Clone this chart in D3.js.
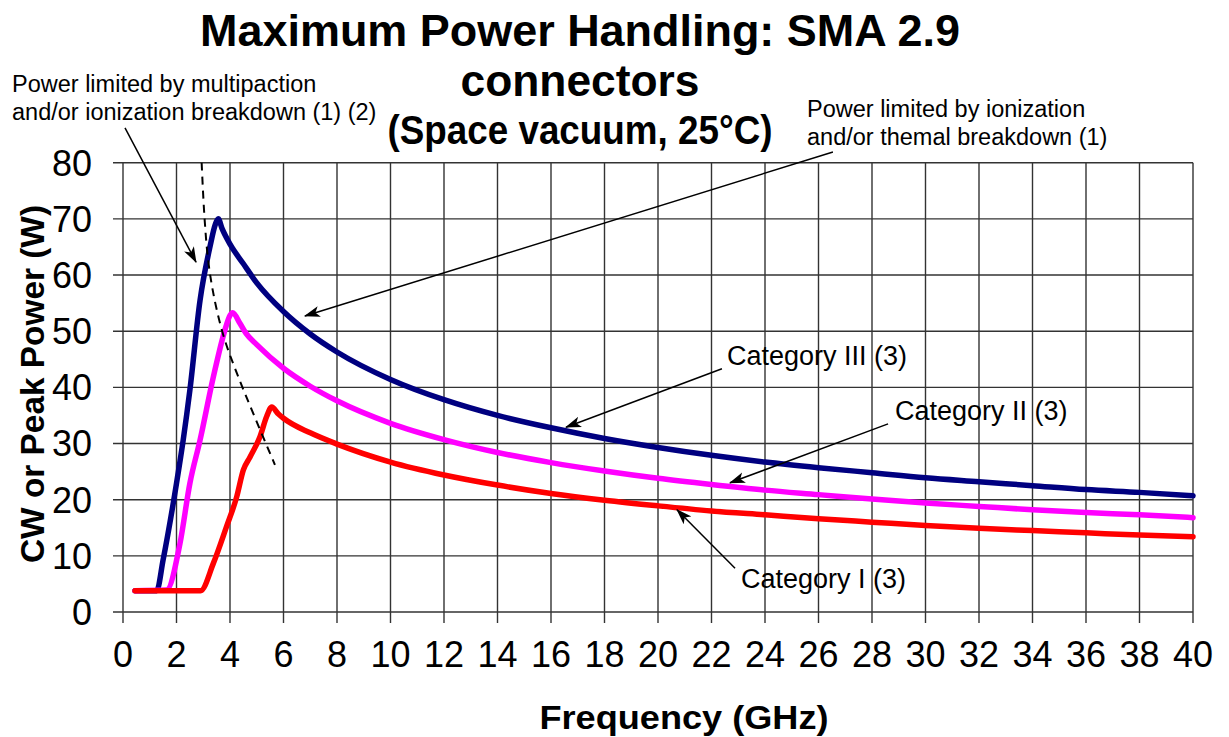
<!DOCTYPE html>
<html>
<head>
<meta charset="utf-8">
<script src="https://cdn.jsdelivr.net/npm/d3@7"></script>
<style>
  body { margin: 0; background: #fff; }
  svg { display: block; font-family: "Liberation Sans", Arial, sans-serif; }
</style>
</head>
<body>
<div id="chart"></div>
<script>
////////////////////////////////////////////////////////////////////////////////
// Data

// Category III (navy)
var cat3_freq  = [0.45, 1.26, 1.5, 2.0, 2.25, 2.5, 2.88, 3.25, 3.45, 3.56, 3.7, 4.0, 4.5, 5, 6, 7, 8, 10, 12, 14, 16, 18, 20, 22, 24, 26, 28, 30, 32, 34, 36, 38, 40];
var cat3_power = [3.8, 3.8, 9.3, 22.9, 30.6, 39.5, 55.5, 65, 69, 70, 68.3, 65.5, 62, 58.6, 53.5, 49.5, 46.3, 41.4, 37.8, 35, 32.8, 30.9, 29.3, 27.9, 26.7, 25.7, 24.8, 23.9, 23.2, 22.5, 21.8, 21.3, 20.7];

// Category II (magenta)
var cat2_freq  = [0.45, 1.63, 2.13, 2.5, 2.88, 3.38, 3.81, 4.0, 4.1, 4.37, 4.6, 5, 6, 7, 8, 10, 12, 14, 16, 18, 20, 22, 24, 26, 28, 30, 32, 34, 36, 38, 40];
var cat2_power = [3.8, 3.9, 12.2, 22.9, 30.6, 41.9, 50.2, 52.8, 53.3, 51.4, 49.6, 47.6, 43.4, 40.2, 37.6, 33.6, 30.7, 28.4, 26.6, 25.1, 23.8, 22.7, 21.7, 20.9, 20.1, 19.4, 18.8, 18.2, 17.7, 17.3, 16.8];

// Category I (red)
var cat1_freq  = [0.45, 2.9, 3.38, 3.87, 4.25, 4.5, 4.75, 5.12, 5.37, 5.56, 5.8, 6, 7, 8, 10, 12, 14, 16, 18, 20, 22, 24, 26, 28, 30, 32, 34, 36, 38, 40];
var cat1_power = [3.8, 3.8, 8.7, 15.2, 20.5, 25.3, 27.6, 31.2, 34.8, 36.5, 35.3, 34.5, 31.9, 29.9, 26.7, 24.4, 22.6, 21.1, 19.9, 18.9, 18.0, 17.3, 16.6, 16.0, 15.4, 14.9, 14.5, 14.1, 13.7, 13.4];

// Multipaction / ionization limit (dashed)
var limit_freq  = [2.94, 3.05, 3.2, 3.45, 3.8, 4.3, 4.9, 5.68];
var limit_power = [80, 70, 62, 55, 48.5, 42, 35, 26.2];

var x_ticks = d3.range(0, 41, 2);
var y_ticks = d3.range(0, 81, 10);

var title_lines = ["Maximum Power Handling: SMA 2.9", "connectors", "(Space vacuum, 25°C)"];
var x_title = "Frequency (GHz)";
var y_title = "CW or Peak Power (W)";

// annotation arrows, tail -> tip in data units [GHz, W]
var arrow_from = [[0.075, 86.2], [26.54, 81.9], [22.39, 43.3], [28.6, 33.5], [22.88, 7.8]];
var arrow_to   = [[2.73, 62.3], [6.80, 52.7], [16.56, 32.9], [22.69, 23.0], [20.71, 18.2]];

////////////////////////////////////////////////////////////////////////////////
// Setup

var width = 1229, height = 737;
var svg = d3.select("#chart").append("svg")
    .attr("width", width).attr("height", height);

var scale_X = d3.scaleLinear().domain([0, 40]).range([123, 1193]);
var scale_Y = d3.scaleLinear().domain([0, 80]).range([612, 162.7]);

svg.append("defs").append("marker")
    .attr("id", "arrow")
    .attr("markerUnits", "userSpaceOnUse")
    .attr("viewBox", "0 -6 16 12")
    .attr("refX", 15).attr("refY", 0)
    .attr("markerWidth", 16).attr("markerHeight", 12)
    .attr("orient", "auto")
  .append("path")
    .attr("d", "M0,-5.5L16,0L0,5.5L4,0Z")
    .attr("fill", "#000");

////////////////////////////////////////////////////////////////////////////////
// Grid

var grid = svg.append("g").attr("class", "grid")
    .attr("stroke", "#333").attr("stroke-width", 1.4);

grid.selectAll(".vline").data(x_ticks).enter().append("line")
    .attr("x1", function(d) { return scale_X(d); })
    .attr("x2", function(d) { return scale_X(d); })
    .attr("y1", scale_Y(80))
    .attr("y2", scale_Y(0) + 11);

grid.selectAll(".hline").data(y_ticks).enter().append("line")
    .attr("x1", scale_X(0) - 10)
    .attr("x2", scale_X(40))
    .attr("y1", function(d) { return scale_Y(d); })
    .attr("y2", function(d) { return scale_Y(d); });

// tick labels
svg.append("g").selectAll("text").data(x_ticks).enter().append("text")
    .attr("x", function(d) { return scale_X(d); })
    .attr("y", 667)
    .attr("text-anchor", "middle")
    .style("font-size", "36px")
    .text(function(d) { return d; });

svg.append("g").selectAll("text").data(y_ticks).enter().append("text")
    .attr("x", 92)
    .attr("y", function(d) { return scale_Y(d); })
    .attr("dy", "0.36em")
    .attr("text-anchor", "end")
    .style("font-size", "36px")
    .text(function(d) { return d; });

////////////////////////////////////////////////////////////////////////////////
// Curves

var line = d3.line()
    .x(function(d) { return scale_X(d[0]); })
    .y(function(d) { return scale_Y(d[1]); })
    .curve(d3.curveMonotoneX);

function pairs(xs, ys) { return xs.map(function(v, i) { return [v, ys[i]]; }); }

var series = [
  { f: cat3_freq, p: cat3_power, color: "#000080" },
  { f: cat2_freq, p: cat2_power, color: "#ff00ff" },
  { f: cat1_freq, p: cat1_power, color: "#ff0000" }
];

svg.selectAll(".series").data(series).enter().append("path")
    .attr("class", "series")
    .attr("d", function(d) { return line(pairs(d.f, d.p)); })
    .attr("fill", "none")
    .attr("stroke", function(d) { return d.color; })
    .attr("stroke-width", 5.5)
    .attr("stroke-linejoin", "round")
    .attr("stroke-linecap", "round");

// dashed limit sits on top of the curves
svg.append("path")
    .attr("d", line.curve(d3.curveCatmullRom)(pairs(limit_freq, limit_power)))
    .attr("fill", "none").attr("stroke", "#000")
    .attr("stroke-width", 2).attr("stroke-dasharray", "8,6");

////////////////////////////////////////////////////////////////////////////////
// Annotations

svg.append("g").selectAll("line").data(arrow_from).enter().append("line")
    .attr("x1", function(d) { return scale_X(d[0]); })
    .attr("y1", function(d) { return scale_Y(d[1]); })
    .attr("x2", function(d, i) { return scale_X(arrow_to[i][0]); })
    .attr("y2", function(d, i) { return scale_Y(arrow_to[i][1]); })
    .attr("stroke", "#000").attr("stroke-width", 1.5)
    .attr("marker-end", "url(#arrow)");

function note(x, y, size, txt) {
  svg.append("text").attr("x", x).attr("y", y)
    .style("font-size", size + "px").text(txt);
}
note(12, 92, 23.5, "Power limited by multipaction");
note(12, 120, 23.5, "and/or ionization breakdown (1) (2)");
note(807, 117, 23.5, "Power limited by ionization");
note(807, 145, 23.5, "and/or themal breakdown (1)");
note(727, 365, 27, "Category III (3)");
note(895, 420, 27, "Category II (3)");
note(741, 588, 27, "Category I (3)");

// Titles
var title_y = [46, 96, 144], title_size = [45, 45, 40], title_len = [760, 239, 385];
svg.append("g").selectAll("text").data(title_lines).enter().append("text")
    .attr("x", 580)
    .attr("y", function(d, i) { return title_y[i]; })
    .attr("text-anchor", "middle")
    .attr("textLength", function(d, i) { return title_len[i]; })
    .attr("lengthAdjust", "spacingAndGlyphs")
    .style("font-size", function(d, i) { return title_size[i] + "px"; })
    .style("font-weight", "bold")
    .text(function(d) { return d; });

svg.append("text")
    .attr("x", 684).attr("y", 729)
    .attr("text-anchor", "middle")
    .attr("textLength", 289).attr("lengthAdjust", "spacingAndGlyphs")
    .style("font-size", "34px").style("font-weight", "bold")
    .text(x_title);

svg.append("text")
    .attr("transform", "translate(44,384) rotate(-90)")
    .attr("text-anchor", "middle")
    .attr("textLength", 358).attr("lengthAdjust", "spacingAndGlyphs")
    .style("font-size", "34px").style("font-weight", "bold")
    .text(y_title);
</script>
</body>
</html>
